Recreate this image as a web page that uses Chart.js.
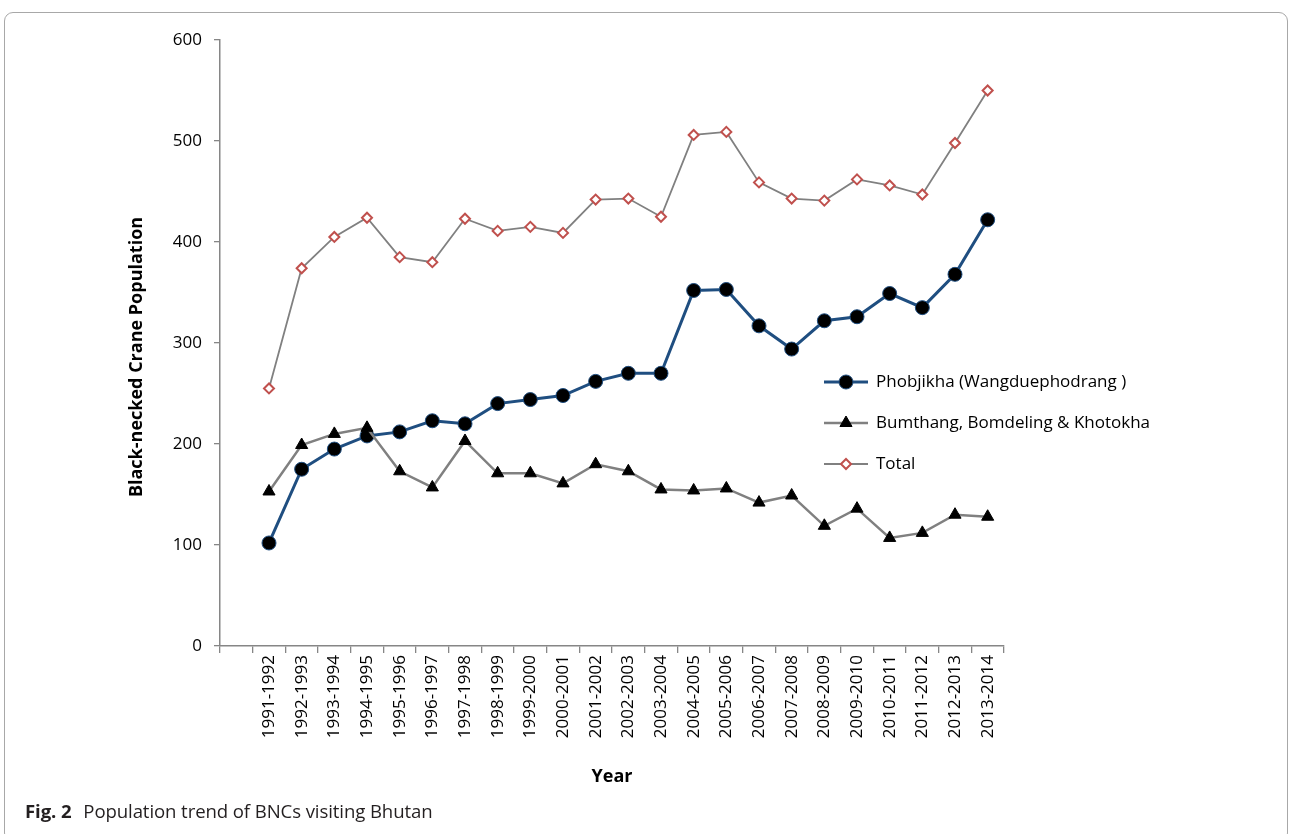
<!DOCTYPE html>
<html>
<head>
<meta charset="utf-8">
<script src="https://cdn.jsdelivr.net/npm/chart.js@4.4.1/dist/chart.umd.min.js"></script>
<style>
  html, body { margin: 0; padding: 0; background: #fff; }
  #wrap { position: relative; width: 1292px; height: 834px; overflow: hidden; }
  #frame {
    position: absolute; left: 4px; top: 12px; width: 1284px; height: 830px;
    border: 1px solid #a8a8a8; border-radius: 9px; box-sizing: border-box;
  }
  #chart-box { position: absolute; left: 0; top: 0; width: 1292px; height: 834px; }
  #caption {
    position: absolute; left: 25px; top: 798px; font-family: "Open Sans", sans-serif;
    font-size: 18.6px; color: #231f20; letter-spacing: -0.1px;
  }
  #caption b { font-weight: 700; margin-right: 7px; }
</style>
</head>
<body>
<div id="wrap">
  <div id="frame"></div>
  <div id="chart-box"><canvas id="chart" width="1292" height="834"></canvas></div>
  <div id="caption"><b>Fig. 2</b> Population trend of BNCs visiting Bhutan</div>
</div>
<script>
// Seasons (first slot is empty, as in the original sheet)
const seasons = ["", "1991-1992", "1992-1993", "1993-1994", "1994-1995", "1995-1996", "1996-1997",
  "1997-1998", "1998-1999", "1999-2000", "2000-2001", "2001-2002", "2002-2003", "2003-2004",
  "2004-2005", "2005-2006", "2006-2007", "2007-2008", "2008-2009", "2009-2010", "2010-2011",
  "2011-2012", "2012-2013", "2013-2014"];

const phobjikha = [null, 102, 175, 195, 208, 212, 223, 220, 240, 244, 248, 262, 270, 270,
  352, 353, 317, 294, 322, 326, 349, 335, 368, 422];
const bumthang = [null, 153, 199, 210, 216, 173, 157, 203, 171, 171, 161, 180, 173, 155,
  154, 156, 142, 149, 119, 136, 107, 112, 130, 128];
const total = [null, 255, 374, 405, 424, 385, 380, 423, 411, 415, 409, 442, 443, 425,
  506, 509, 459, 443, 441, 462, 456, 447, 498, 550];

const yTicks = [0, 100, 200, 300, 400, 500, 600];

const seriesNames = ["Phobjikha (Wangduephodrang )", "Bumthang, Bomdeling & Khotokha", "Total"];
const yTitle = "Black-necked Crane Population";

const FONT = "'Open Sans', sans-serif";

// Legend inside the plot on the right, plus the y title (sits a bit low, like Excel's)
const insideLegend = {
  id: "insideLegend",
  afterDraw(chart) {
    const ctx = chart.ctx;
    const area = chart.chartArea;
    const x0 = area.left + 604;
    const y0 = area.top + 342;
    const gap = 41;
    ctx.save();
    chart.data.datasets.forEach((ds, i) => {
      const y = y0 + i * gap;
      ctx.strokeStyle = ds.borderColor;
      ctx.lineWidth = ds.borderWidth;
      ctx.beginPath();
      ctx.moveTo(x0, y);
      ctx.lineTo(x0 + 44, y);
      ctx.stroke();
      ctx.fillStyle = ds.pointBackgroundColor;
      ctx.strokeStyle = ds.pointBorderColor;
      ctx.lineWidth = ds.pointBorderWidth;
      Chart.helpers.drawPoint(ctx, {
        pointStyle: ds.pointStyle,
        radius: ds.pointRadius,
        borderWidth: ds.pointBorderWidth
      }, x0 + 22, y);
      ctx.fillStyle = "#000";
      ctx.font = "17px " + FONT;
      ctx.textBaseline = "middle";
      ctx.textAlign = "left";
      ctx.fillText(seriesNames[i], x0 + 52, y);
    });

    ctx.translate(137, area.top + 317);
    ctx.rotate(-Math.PI / 2);
    ctx.font = "bold 18px " + FONT;
    ctx.textAlign = "center";
    ctx.textBaseline = "middle";
    ctx.fillStyle = "#000";
    ctx.fillText(yTitle, 0, 0);
    ctx.restore();
  }
};

new Chart(document.getElementById("chart"), {
  type: "line",
  data: {
    labels: seasons,
    datasets: [
      {
        label: seriesNames[0],
        data: phobjikha,
        borderColor: "#1f4e80",
        borderWidth: 3,
        pointStyle: "circle",
        pointRadius: 7,
        pointBackgroundColor: "#000",
        pointBorderColor: "#1f4e80",
        pointBorderWidth: 1,
        order: 3
      },
      {
        label: seriesNames[1],
        data: bumthang,
        borderColor: "#808080",
        borderWidth: 2.5,
        pointStyle: "triangle",
        pointRadius: 7,
        pointBackgroundColor: "#000",
        pointBorderColor: "#000",
        pointBorderWidth: 1,
        order: 2
      },
      {
        label: seriesNames[2],
        data: total,
        borderColor: "#808080",
        borderWidth: 1.8,
        pointStyle: "rectRot",
        pointRadius: 5,
        pointBackgroundColor: "#fff",
        pointBorderColor: "#c0504d",
        pointBorderWidth: 2,
        order: 1
      }
    ]
  },
  options: {
    responsive: false,
    animation: false,
    layout: { padding: { left: 122, top: 40, right: 288, bottom: 42 } },
    plugins: {
      legend: { display: false },
      tooltip: { enabled: false }
    },
    scales: {
      x: {
        offset: true,
        afterFit: (scale) => { scale.height = 146; },
        grid: {
          offset: true,
          drawOnChartArea: false,
          drawTicks: true,
          tickLength: 7,
          color: "#868686",
          lineWidth: 1.3
        },
        border: { color: "#868686", width: 1.5 },
        ticks: {
          autoSkip: false,
          maxRotation: 90,
          minRotation: 90,
          padding: 2,
          color: "#000",
          font: { family: FONT, size: 17 }
        },
        title: {
          display: true,
          text: "Year",
          color: "#000",
          font: { family: FONT, size: 18, weight: "bold" }
        }
      },
      y: {
        min: 0,
        max: 600,
        afterFit: (scale) => { scale.width = 98; },
        afterBuildTicks: (scale) => { scale.ticks = yTicks.map(v => ({ value: v })); },
        grid: {
          drawOnChartArea: false,
          drawTicks: true,
          tickLength: 6,
          color: "#868686",
          lineWidth: 1.3
        },
        border: { color: "#868686", width: 1.5 },
        ticks: {
          padding: 12,
          color: "#000",
          font: { family: FONT, size: 17 }
        },
        title: { display: false }
      }
    }
  },
  plugins: [insideLegend]
});
</script>
</body>
</html>
